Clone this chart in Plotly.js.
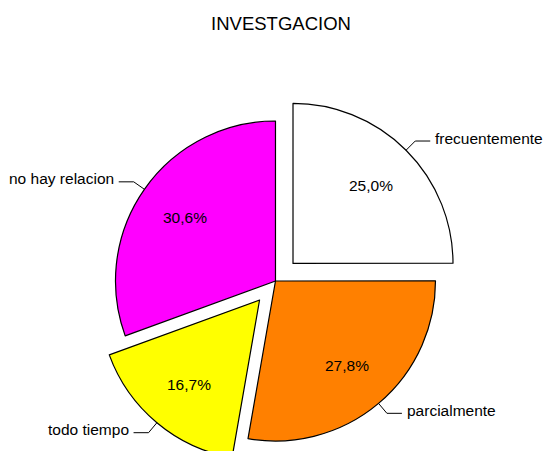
<!DOCTYPE html>
<html><head><meta charset="utf-8">
<script src="https://cdn.plot.ly/plotly-3.0.1.min.js"></script>
<style>html,body{margin:0;padding:0;overflow:hidden;background:#fff;} #chart{width:546px;height:470px;}</style>
</head><body><div id="chart"></div>
<script>
// ---- data ----
const categories = ['frecuentemente', 'parcialmente', 'todo tiempo', 'no hay relacion'];
const values = [25.0, 27.8, 16.7, 30.6];
const sliceColors = ['#FFFFFF', '#FF8000', '#FFFF00', '#FF00FF'];
const pulls = [0.155, 0, 0.155, 0];
const chartTitle = 'INVESTGACION';

// ---- layout geometry ----
const W = 546, H = 470;
const domX = [0.1661, 0.8430], domY = [0, 0.80426];
const boxW = W * (domX[1] - domX[0]), boxH = H * (domY[1] - domY[0]);
const maxPull = Math.max(...pulls);
const R = Math.min(boxW, boxH) / 2 / (1 + maxPull);
const cx = W * (domX[0] + domX[1]) / 2;
const cy = H * (1 - domY[0]) - boxH / 2;
const px = x => x / W, py = y => 1 - y / H;

const FONT = 'Liberation Sans, Arial, sans-serif';
const total = values.reduce((a, b) => a + b, 0);
const annotations = [], shapes = [];
let cum = 0;
values.forEach((v, i) => {
  const mid = (cum + v / 2) / total * 2 * Math.PI;
  cum += v;
  const dx = Math.sin(mid), dy = -Math.cos(mid);
  const sx = cx + pulls[i] * R * dx, sy = cy + pulls[i] * R * dy;
  // percent inside
  annotations.push({
    x: px(sx + 0.69 * R * dx), y: py(sy + 0.69 * R * dy), xref: 'paper', yref: 'paper',
    text: v.toFixed(1).replace('.', ',') + '%', showarrow: false,
    font: {family: FONT, size: 15.5, color: '#000'}, xanchor: 'center', yanchor: 'middle'
  });
  // leader line
  const p1x = sx + R * dx, p1y = sy + R * dy;
  const p2x = sx + (R + 13) * dx, p2y = sy + (R + 13) * dy;
  const side = dx >= 0 ? 1 : -1;
  const p3x = p2x + side * 15, p3y = p2y;
  shapes.push({type: 'line', xref: 'paper', yref: 'paper', x0: px(p1x), y0: py(p1y), x1: px(p2x), y1: py(p2y), line: {color: '#000', width: 1}});
  shapes.push({type: 'line', xref: 'paper', yref: 'paper', x0: px(p2x), y0: py(p2y), x1: px(p3x), y1: py(p3y), line: {color: '#000', width: 1}});
  annotations.push({
    x: px(p3x + side * 3), y: py(p3y - 3), xref: 'paper', yref: 'paper',
    text: categories[i], showarrow: false,
    font: {family: FONT, size: 15.5, color: '#000'},
    xanchor: side > 0 ? 'left' : 'right', yanchor: 'middle'
  });
});

const trace = {
  type: 'pie', labels: categories, values: values,
  marker: {colors: sliceColors, line: {color: '#000', width: 1.2}},
  pull: pulls, sort: false, direction: 'clockwise', rotation: 0,
  textinfo: 'none', hoverinfo: 'skip', showlegend: false,
  domain: {x: domX, y: domY}
};

const layout = {
  width: W, height: H, margin: {l: 0, r: 0, t: 0, b: 0},
  paper_bgcolor: '#fff', plot_bgcolor: '#fff', showlegend: false,
  title: {text: chartTitle, x: 281 / W, xref: 'container', xanchor: 'center',
          y: 1 - 24 / H, yref: 'container', yanchor: 'middle',
          font: {family: FONT, size: 18.5, color: '#000'}},
  annotations: annotations, shapes: shapes
};

Plotly.newPlot('chart', [trace], layout, {staticPlot: true, displayModeBar: false});
</script>
</body></html>
